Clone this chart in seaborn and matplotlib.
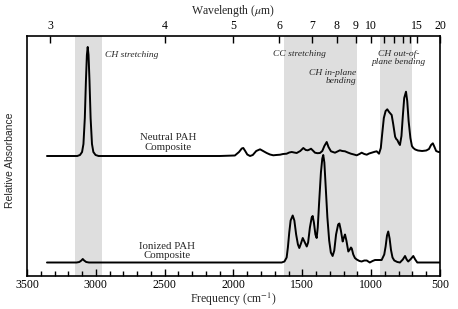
import numpy as np
import pandas as pd
import matplotlib
matplotlib.use("Agg")
import matplotlib.pyplot as plt
import seaborn as sns

# ---------------- data ----------------
neutral_freq = [3355, 3200, 3135, 3115, 3100, 3090, 3080, 3072, 3065, 3059, 3053, 3046, 3038, 3028,
                3018, 3002, 2980, 2100, 1990, 1960, 1940, 1929, 1915, 1900, 1880, 1860, 1835, 1807,
                1785, 1759, 1735, 1711, 1690, 1662, 1640, 1614, 1595, 1577, 1560, 1541, 1515, 1493,
                1475, 1461, 1447, 1437, 1420, 1408, 1390, 1372, 1355, 1340, 1323, 1310, 1292, 1263,
                1245, 1227, 1210, 1190, 1170, 1147, 1125, 1105, 1085, 1069, 1050, 1032, 1015, 996,
                975, 960, 943, 930, 920, 908, 895, 883, 870, 851, 840, 826, 818, 810, 800, 791, 780,
                770, 760, 747, 738, 728, 715, 704, 694, 680, 660, 630, 600, 580, 565, 552, 540, 528,
                510, 500]
neutral_abs = [0, 0, 0, 1, 4, 12, 38, 75, 101, 109, 101, 75, 38, 12,
               4, 1, 0, 0, 0.5, 4, 7.5, 8, 5, 1.5, 0, 1, 5, 6.7,
               5, 3, 1.5, 0.7, 1, 1.3, 2, 2.3, 3.5, 4, 3.5, 3, 5, 8,
               6, 5.7, 6.5, 7.3, 5, 3.3, 2.8, 3, 5, 10, 14, 9, 4.7, 3.3,
               4.5, 5.7, 5, 4.7, 3.5, 2.3, 1.5, 0.7, 2, 3.3, 2, 1.3, 2.5, 3.3,
               4.2, 4.7, 2.3, 8, 22, 38, 45, 46.7, 44, 41, 32, 19.3, 17, 16, 13, 11, 20,
               40, 58, 64.3, 55, 35, 18, 10, 8, 6.5, 5.5, 5, 5.5, 7, 11, 12.7, 9, 5,
               4, 4]

ionized_freq = [3355, 3140, 3120, 3105, 3095, 3085, 3070, 3050, 1650, 1630, 1614, 1605, 1595, 1585,
                1570, 1558, 1545, 1532, 1522, 1510, 1497, 1485, 1468, 1458, 1445, 1432, 1425, 1416,
                1405, 1396, 1388, 1378, 1365, 1355, 1348, 1340, 1330, 1318, 1305, 1293, 1280, 1268,
                1255, 1240, 1231, 1220, 1207, 1198, 1190, 1180, 1166, 1155, 1147, 1141, 1130, 1118,
                1105, 1085, 1069, 1050, 1032, 1010, 990, 972, 945, 924, 905, 895, 885, 876, 866,
                856, 845, 832, 810, 791, 770, 754, 742, 731, 712, 694, 680, 665, 500]
ionized_abs = [0, 0, 0.5, 2, 3.5, 2, 0.5, 0, 0, 1, 5, 15, 30, 42,
               47, 42, 28, 18, 14.5, 19, 24.5, 21, 16, 20, 35, 45, 46.5, 40,
               28, 24.5, 35, 60, 90, 104, 107.5, 100, 75, 45, 22, 10, 6.5, 12,
               28, 38, 39, 32, 21, 25, 28, 22, 11, 13, 15, 14, 8, 4.5,
               3, 1.5, 1, 2, 2, 0, 1.5, 2.5, 2.5, 2.5, 8, 16, 27, 31, 24,
               12.5, 5, 2, 0.5, 0, 3, 6.5, 3, 1, 3.5, 6.5, 3, 0, 0]

bands = [(3150, 2955), (1630, 1105), (938, 706)]
bottom_major = [3500, 3000, 2500, 2000, 1500, 1000, 500]
top_labels = [3, 4, 5, 6, 7, 8, 9, 10, 15, 20]
top_minor = [11, 12, 13, 14]

NEUTRAL_OFFSET = 120
IONIZED_OFFSET = 13.5

# ---------------- style ----------------
sns.set_theme(style="white")
plt.rcParams["font.family"] = ["Liberation Serif", "DejaVu Serif"]
plt.rcParams["mathtext.fontset"] = "stix"

fig = plt.figure(figsize=(4.58, 3.09), dpi=100)
ax = fig.add_axes([27 / 458, 33 / 309, 413 / 458, 240 / 309])

for lo, hi in bands:
    ax.axvspan(lo, hi, color="#dedede", lw=0, zorder=0)

df_n = pd.DataFrame({"freq": neutral_freq, "abs": np.array(neutral_abs) + NEUTRAL_OFFSET})
df_i = pd.DataFrame({"freq": ionized_freq, "abs": np.array(ionized_abs) + IONIZED_OFFSET})
sns.lineplot(data=df_n, x="freq", y="abs", sort=False, estimator=None, color="black", lw=1.4, ax=ax)
sns.lineplot(data=df_i, x="freq", y="abs", sort=False, estimator=None, color="black", lw=1.4, ax=ax)

ax.set_xlim(3500, 500)
ax.set_ylim(0, 240)
ax.set_yticks([])
ax.set_ylabel("")
ax.set_xticks(bottom_major)
ax.set_xticklabels([str(v) for v in bottom_major], fontsize=8.5)
ax.set_xticks(np.arange(500, 3501, 100), minor=True)
ax.tick_params(axis="x", which="both", direction="in", bottom=True, top=False,
               colors="black", pad=2.5)
ax.tick_params(axis="x", which="major", length=5, width=1)
ax.tick_params(axis="x", which="minor", length=3.5, width=1)
ax.set_xlabel("Frequency (cm$^{-1}$)", fontsize=8.5, labelpad=-0.5)
for s in ax.spines.values():
    s.set_visible(True)
    s.set_color("black")
    s.set_linewidth(1.2)

ax2 = ax.twiny()
ax2.set_xlim(ax.get_xlim())
ax2.set_xticks([1e4 / l for l in top_labels])
ax2.set_xticklabels([str(l) for l in top_labels], fontsize=8.5)
ax2.set_xticks([1e4 / l for l in top_minor], minor=True)
ax2.tick_params(axis="x", which="both", direction="in", length=5, width=1, pad=3, colors="black")
ax2.set_xlabel("Wavelength ($\\mu$m)", fontsize=8.5, labelpad=4)
for s in ax2.spines.values():
    s.set_visible(False)

fig.text(10 / 458, 1 - 160 / 309, "Relative Absorbance", rotation=90, ha="center", va="center",
         fontsize=7.5, family=["Liberation Sans", "DejaVu Sans"])

it = dict(fontsize=6.8, style="italic", linespacing=1.05)
ax.text(2933, 221, "CH stretching", ha="left", va="center", **it)
ax.text(1713, 222, "CC stretching", ha="left", va="center", **it)
ax.text(1105, 199.3, "CH in-plane\nbending", ha="right", va="center", multialignment="right", **it)
ax.text(803, 217.7, "CH out-of-\nplane bending", ha="center", va="center", multialignment="center", **it)
ax.text(2476, 133.5, "Neutral PAH\nComposite", ha="center", va="center", fontsize=7.8, linespacing=1.0)
ax.text(2480, 25, "Ionized PAH\nComposite", ha="center", va="center", fontsize=7.8, linespacing=1.0)

fig.savefig("out.png", dpi=100, facecolor="white")
